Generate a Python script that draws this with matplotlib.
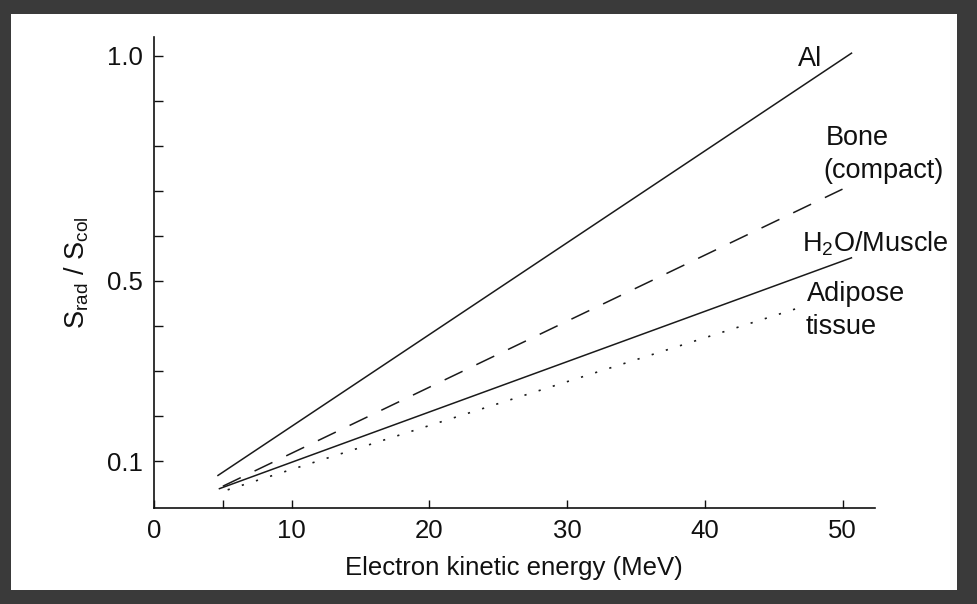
import matplotlib
matplotlib.use("Agg")
import matplotlib.pyplot as plt
from matplotlib.patches import Rectangle

# ---- data ----
energy_al = [4.6, 50.7]
ratio_al = [0.067, 1.007]
energy_bone = [5.0, 50.0]
ratio_bone = [0.044, 0.704]
energy_water = [4.7, 50.7]
ratio_water = [0.038, 0.552]
energy_adipose = [5.35, 46.8]
ratio_adipose = [0.036, 0.44]

x_major = [0, 10, 20, 30, 40, 50]
x_labels = ["0", "10", "20", "30", "40", "50"]
x_minor = [5]
y_major = [0.1, 0.5, 1.0]
y_labels = ["0.1", "0.5", "1.0"]
y_minor = [0.2, 0.3, 0.4, 0.6, 0.7, 0.8, 0.9]

plt.rcParams["font.family"] = ["Liberation Sans", "DejaVu Sans"]
plt.rcParams["mathtext.fontset"] = "custom"
plt.rcParams["mathtext.rm"] = "Liberation Sans"

W, H = 977, 604
fig = plt.figure(figsize=(W / 100, H / 100), dpi=100, facecolor="#3a3a3a")
fig.patches.append(Rectangle((11 / W, 1 - 590 / H), (957 - 11) / W, (590 - 14) / H,
                             transform=fig.transFigure, facecolor="white",
                             edgecolor="none", zorder=-10))

AX_L, AX_R, AX_B, AX_T = 154, 875, 508, 37
ax = fig.add_axes([AX_L / W, 1 - AX_B / H, (AX_R - AX_L) / W, (AX_B - AX_T) / H])
ax.set_zorder(5)
ax.set_facecolor("white")

lc = "#1a1a1a"
ax.plot(energy_al, ratio_al, color=lc, lw=1.1, solid_capstyle="butt")
ax.plot(energy_bone, ratio_bone, color=lc, lw=1.1, dashes=(13, 10), dash_capstyle="butt")
ax.plot(energy_water, ratio_water, color=lc, lw=1.1, solid_capstyle="butt")
ax.plot(energy_adipose, ratio_adipose, color=lc, lw=1.2, dashes=(1.3, 7.6))

ax.set_xlim(0, 52.36)
ax.set_ylim(-0.0044, 1.042)

ax.set_xticks(x_major)
ax.set_xticklabels(x_labels)
ax.set_xticks(x_minor, minor=True)
ax.set_yticks(y_major)
ax.set_yticklabels(y_labels)
ax.set_yticks(y_minor, minor=True)

for s in ["top", "right"]:
    ax.spines[s].set_visible(False)
for s in ["left", "bottom"]:
    ax.spines[s].set_linewidth(1.2)
    ax.spines[s].set_color("#111111")

fs = 18.5
ax.tick_params(axis="x", which="both", direction="in", length=6, width=1.0,
               pad=8, labelsize=fs, colors="#111111")
ax.tick_params(axis="y", which="both", direction="in", length=6.5, width=1.0,
               pad=8, labelsize=fs, colors="#111111")

def fx(px):
    return (px - AX_L) / (AX_R - AX_L)
def fy(py):
    return (AX_B - py) / (AX_B - AX_T)

ax.set_xlabel("Electron kinetic energy (MeV)", fontsize=fs, color="#111111")
ax.xaxis.set_label_coords(fx(345), fy(575))
ax.xaxis.label.set(ha="left", va="baseline")
ax.set_ylabel(r"S$_{\mathregular{rad}}$ / S$_{\mathregular{col}}$", fontsize=fs + 1, color="#111111")
ax.yaxis.set_label_coords(fx(77), fy(273))
ax.yaxis.label.set(ha="center", va="center")

afs = 19.5
def px(x):
    return (x - 153.5) / 13.77
def py(y):
    return (506 - y) / 450.0

kw = dict(fontsize=afs, ha="left", va="baseline", color="#111111", clip_on=False)
ax.text(px(797), py(66.5), "Al", **kw)
ax.text(px(825), py(145), "Bone", **kw)
ax.text(px(823), py(178), "(compact)", **kw)
ax.text(px(801), py(251.5), r"H$_{\mathregular{2}}$O/Muscle", **kw)
ax.text(px(806), py(301.5), "Adipose", **kw)
ax.text(px(805), py(334), "tissue", **kw)

fig.savefig("out.png", dpi=100, facecolor=fig.get_facecolor())
